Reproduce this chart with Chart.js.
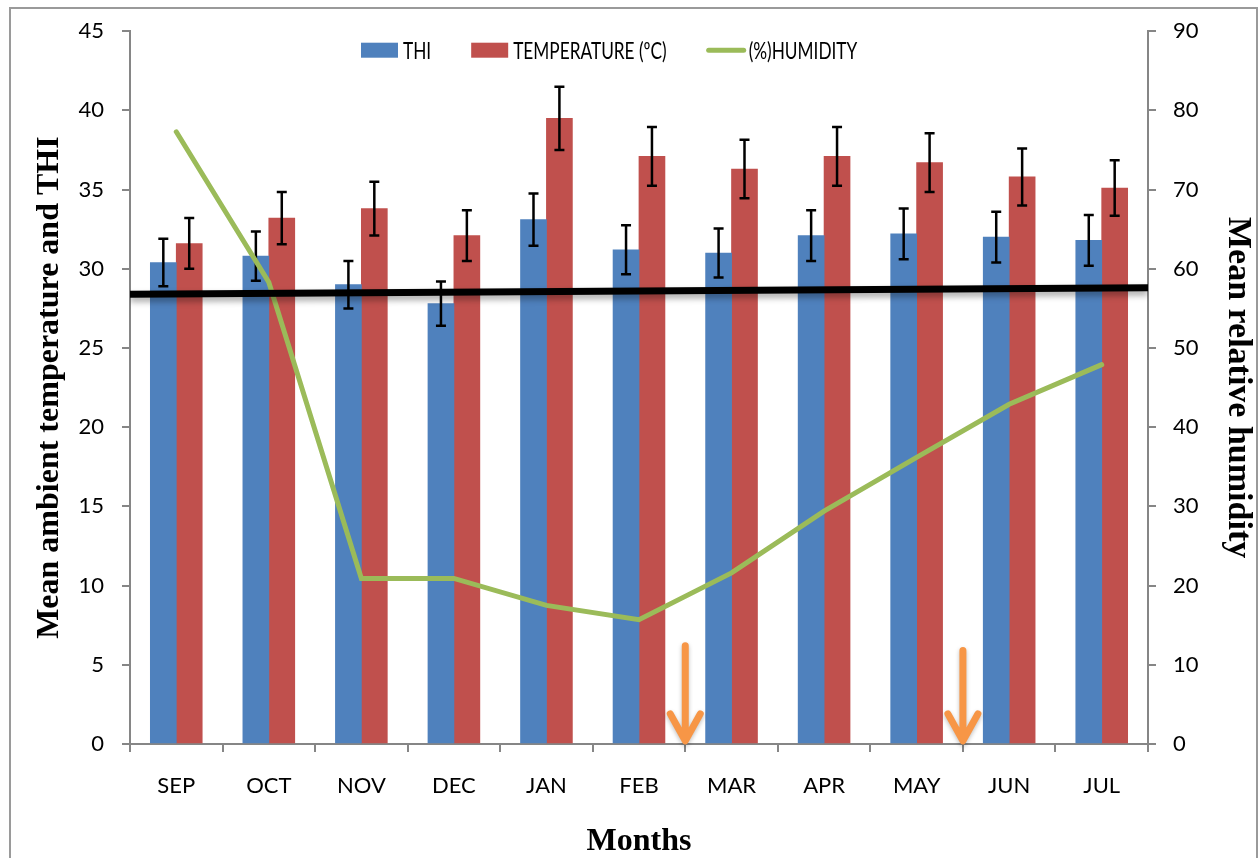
<!DOCTYPE html>
<html>
<head>
<meta charset="utf-8">
<title>THI, temperature and humidity</title>
<script src="https://cdn.jsdelivr.net/npm/chart.js@4.4.1/dist/chart.umd.min.js"></script>
<style>
    html, body { margin: 0; padding: 0; background: #fff; }
    #frame { position: absolute; left: 9px; top: 7px; width: 1245px; height: 900px; border: 2px solid #9a9a9a; }
    #chart { position: absolute; left: 0; top: 0; }
</style>
</head>
<body>
<div id="frame"></div>
<canvas id="chart" width="1260" height="858"></canvas>
<script>
// data
const months = ['SEP', 'OCT', 'NOV', 'DEC', 'JAN', 'FEB', 'MAR', 'APR', 'MAY', 'JUN', 'JUL'];
const thi = [30.4, 30.8, 29.0, 27.8, 33.1, 31.2, 31.0, 32.1, 32.2, 32.0, 31.8];
const thiErr = [1.5, 1.55, 1.5, 1.4, 1.65, 1.55, 1.55, 1.6, 1.6, 1.6, 1.6];
const temperature = [31.6, 33.2, 33.8, 32.1, 39.5, 37.1, 36.3, 37.1, 36.7, 35.8, 35.1];
const tempErr = [1.6, 1.65, 1.7, 1.6, 2.0, 1.85, 1.85, 1.85, 1.85, 1.8, 1.75];
const humidity = [77.3, 58.3, 20.9, 20.9, 17.5, 15.7, 21.6, 29.4, 36.2, 42.9, 47.9];
const trendLine = [28.4, 28.8];          // value at left and right edge of plot
const arrowAt = [5.5, 8.5];              // between FEB/MAR and MAY/JUN
const arrowTop = [6.2, 5.9];             // arrow tail, left axis units
const legendOrder = ['THI', 'TEMPERATURE (ºC)', '(%)HUMIDITY'];

const gray = '#868686';
const tickFont = { family: 'Lato', size: 22 };
const titleFont = { family: 'Liberation Serif', size: 32, weight: 'bold', lineHeight: 1 };
const barShift = 0.14;   // half a bar, in category units: THI left of centre, temperature right

const asPoints = arr => arr.map((v, i) => ({ x: i, y: v }));
const yOf = d => (typeof d === 'object' ? d.y : d);

// error bars after each bar dataset, shadow under the trend line
const errorBars = {
    id: 'errorBars',
    beforeDatasetDraw(chart, args) {
        const ds = chart.data.datasets[args.index];
        if (ds.shadow) {
            const ctx = chart.ctx;
            ctx.save();
            ctx.shadowColor = 'rgba(0,0,0,0.35)';
            ctx.shadowBlur = 6;
            ctx.shadowOffsetY = 4;
        }
    },
    afterDatasetDraw(chart, args) {
        const ds = chart.data.datasets[args.index];
        const ctx = chart.ctx;
        if (ds.shadow) ctx.restore();
        if (!ds.errors) return;
        const y = chart.scales.y;
        ctx.save();
        ctx.strokeStyle = '#000';
        ctx.lineWidth = 2.5;
        args.meta.data.forEach((bar, i) => {
            const v = yOf(ds.data[i]);
            const top = y.getPixelForValue(v + ds.errors[i]);
            const bot = y.getPixelForValue(v - ds.errors[i]);
            ctx.beginPath();
            ctx.moveTo(bar.x, top); ctx.lineTo(bar.x, bot);
            ctx.moveTo(bar.x - 5, top); ctx.lineTo(bar.x + 5, top);
            ctx.moveTo(bar.x - 5, bot); ctx.lineTo(bar.x + 5, bot);
            ctx.stroke();
        });
        ctx.restore();
    }
};

// orange arrows pointing at the x axis
const arrows = {
    id: 'arrows',
    afterDatasetsDraw(chart) {
        const ctx = chart.ctx, x = chart.scales.x, y = chart.scales.y;
        ctx.save();
        ctx.strokeStyle = '#F79646';
        ctx.lineWidth = 7;
        ctx.lineCap = 'round';
        ctx.lineJoin = 'round';
        ctx.shadowColor = 'rgba(0,0,0,0.25)';
        ctx.shadowBlur = 4;
        ctx.shadowOffsetY = 2;
        arrowAt.forEach((at, i) => {
            const px = x.getPixelForValue(at);
            const top = y.getPixelForValue(arrowTop[i]);
            const tip = y.getPixelForValue(0.2);
            ctx.beginPath();
            ctx.moveTo(px, top); ctx.lineTo(px, tip - 2);
            ctx.moveTo(px - 15, tip - 27); ctx.lineTo(px, tip); ctx.lineTo(px + 15, tip - 27);
            ctx.stroke();
        });
        ctx.restore();
    }
};

// legend row inside the top of the plot
const topLegend = {
    id: 'topLegend',
    afterDraw(chart) {
        const ctx = chart.ctx, area = chart.chartArea;
        const squeeze = 0.75;
        let x = area.left + 231;
        const y = area.top + 19;
        ctx.save();
        ctx.font = '23px Lato';
        ctx.textBaseline = 'middle';
        legendOrder.forEach(name => {
            const ds = chart.data.datasets.find(d => d.label === name);
            if (ds.type === 'line') {
                ctx.strokeStyle = ds.borderColor;
                ctx.lineWidth = 5;
                ctx.lineCap = 'round';
                ctx.beginPath();
                ctx.moveTo(x + 2, y); ctx.lineTo(x + 37, y);
                ctx.stroke();
            } else {
                ctx.fillStyle = ds.backgroundColor;
                ctx.fillRect(x, y - 7.5, 37, 15);
            }
            x += 42;
            ctx.fillStyle = '#000';
            ctx.save();
            ctx.translate(x, y);
            ctx.scale(squeeze, 1);
            ctx.fillText(name, 0, 1);
            ctx.restore();
            x += ctx.measureText(name).width * squeeze + 40;
        });
        ctx.restore();
    }
};

// hidden index axes for the two bar series, each shifted by half a bar
const barAxis = shift => ({
    type: 'linear', display: false, offset: false,
    min: -0.5 + shift, max: months.length - 0.5 + shift,
    ticks: { stepSize: 1 }
});

const barStyle = { grouped: false, categoryPercentage: 1, barPercentage: 1, maxBarThickness: 26, order: 2 };

new Chart(document.getElementById('chart'), {
    type: 'bar',
    data: {
        labels: months,
        datasets: [
            { label: 'THI', data: asPoints(thi), errors: thiErr, backgroundColor: '#4F81BD',
              xAxisID: 'xThi', yAxisID: 'y', ...barStyle },
            { label: 'TEMPERATURE (ºC)', data: asPoints(temperature), errors: tempErr, backgroundColor: '#C0504D',
              xAxisID: 'xTemp', yAxisID: 'y', ...barStyle },
            { type: 'line', label: '(%)HUMIDITY', data: humidity, xAxisID: 'x', yAxisID: 'y2',
              borderColor: '#9BBB59', backgroundColor: '#9BBB59', borderWidth: 5, pointRadius: 0,
              borderCapStyle: 'round', order: 1 },
            { type: 'line', label: 'trend', data: [{ x: 0, y: trendLine[0] }, { x: 1, y: trendLine[1] }],
              xAxisID: 'x2', yAxisID: 'y', borderColor: '#000', borderWidth: 7, pointRadius: 0,
              shadow: true, order: 0 }
        ]
    },
    options: {
        responsive: false,
        animation: false,
        devicePixelRatio: 1,
        layout: { padding: { top: 28, left: 0, right: 0, bottom: 0 } },
        plugins: {
            tooltip: { enabled: false },
            legend: { display: false }
        },
        scales: {
            x: {
                type: 'category',
                offset: true,
                grid: { offset: true, drawOnChartArea: false, tickLength: 8, color: gray, lineWidth: 2 },
                border: { color: gray, width: 2 },
                ticks: { color: '#000', font: tickFont, padding: 21 },
                title: { display: true, text: 'Months', color: '#000', font: titleFont, padding: { top: 0, bottom: 0 } },
                afterFit: s => { s.height = 114; }
            },
            xThi: barAxis(barShift),
            xTemp: barAxis(-barShift),
            x2: { type: 'linear', min: 0, max: 1, offset: false, display: false },
            y: {
                position: 'left',
                min: 0, max: 45,
                ticks: { stepSize: 5, color: '#000', font: tickFont, padding: 18 },
                grid: { drawOnChartArea: false, tickLength: 8, color: gray, lineWidth: 2 },
                border: { color: gray, width: 2 },
                title: { display: true, text: 'Mean ambient temperature and THI', color: '#000', font: titleFont, padding: { top: 34, bottom: 0 } },
                afterFit: s => { s.width = 130; }
            },
            y2: {
                position: 'right',
                min: 0, max: 90,
                ticks: { stepSize: 10, color: '#000', font: tickFont, padding: 17 },
                grid: { drawOnChartArea: false, tickLength: 8, color: gray, lineWidth: 2 },
                border: { color: gray, width: 2 },
                title: { display: true, text: 'Mean relative humidity', color: '#000',
                         font: { family: 'Liberation Serif', size: 34, weight: 'bold', lineHeight: 1 }, padding: { top: 5, bottom: 0 } },
                afterFit: s => { s.width = 112; }
            }
        }
    },
    plugins: [errorBars, arrows, topLegend]
});
</script>
</body>
</html>
